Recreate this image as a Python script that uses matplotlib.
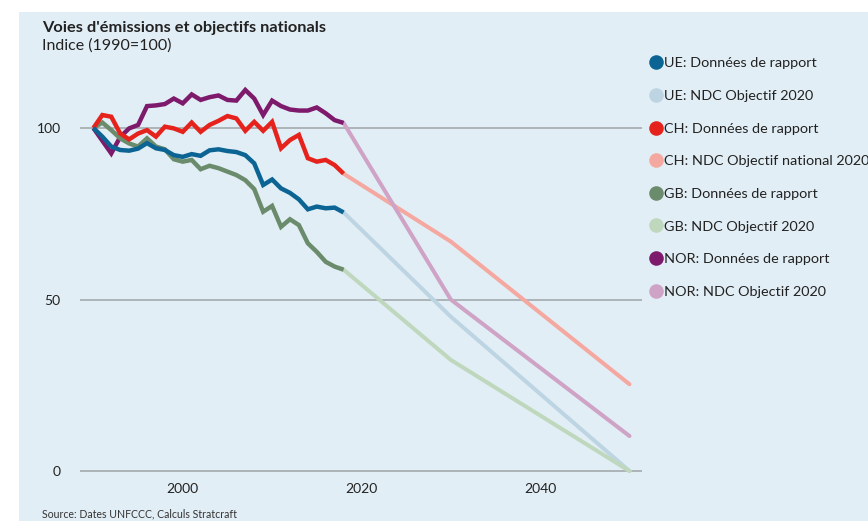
import matplotlib.pyplot as plt
from matplotlib.lines import Line2D

# ---- data (index, 1990 = 100) ----
years = list(range(1990, 2019))

ue_reported = [100, 97.5, 94.6, 93.6, 93.4, 94.0, 95.6, 94.1, 93.6, 92.1,
               91.6, 92.4, 91.9, 93.5, 93.8, 93.3, 93.0, 92.1, 89.7, 83.4,
               85.0, 82.4, 81.1, 79.2, 76.3, 77.1, 76.6, 76.8, 75.4]
ch_reported = [100, 103.8, 103.3, 98.4, 96.7, 98.4, 99.4, 97.5, 100.4, 99.9,
               98.9, 101.6, 98.9, 100.9, 102.1, 103.5, 102.8, 99.2, 101.8, 99.2,
               101.8, 94.1, 96.5, 98.0, 91.2, 90.2, 90.7, 89.2, 86.7]
gb_reported = [100, 101.6, 99.4, 97.0, 95.5, 94.6, 97.0, 94.6, 93.8, 90.9,
               90.2, 90.7, 88.0, 89.0, 88.3, 87.3, 86.3, 84.8, 82.2, 75.6,
               77.3, 71.2, 73.4, 71.7, 66.4, 63.9, 61.0, 59.6, 58.7]
nor_reported = [100, 96.3, 92.6, 97.4, 99.9, 100.9, 106.4, 106.6, 107.0, 108.6,
                107.2, 109.8, 108.2, 109.0, 109.5, 108.2, 108.0, 111.1, 108.6, 103.8,
                108.0, 106.4, 105.4, 105.1, 105.1, 106.0, 104.3, 102.3, 101.5]

target_years = [2018, 2030, 2050]
ue_target = [75.4, 45.0, 0.0]
ch_target = [86.7, 66.9, 25.3]
gb_target = [58.7, 32.4, 0.0]
nor_target = [101.5, 50.0, 10.2]

labels = [
    "UE: Données de rapport", "UE: NDC Objectif 2020",
    "CH: Données de rapport", "CH: NDC Objectif national 2020",
    "GB: Données de rapport", "GB: NDC Objectif 2020",
    "NOR: Données de rapport", "NOR: NDC Objectif 2020",
]

# ---- style ----
BG = "#e2eef5"
GRID = "#a3aaae"
TEXT = "#222222"
colors = {
    "ue": ("#0b6494", "#bdd5e3"),
    "ch": ("#e5231c", "#f4a8a0"),
    "gb": ("#6b8b6d", "#bfd8bd"),
    "nor": ("#7e1a6c", "#cfa3c6"),
}
plt.rcParams["font.family"] = ["Lato", "DejaVu Sans"]

fig = plt.figure(figsize=(8.68, 5.21), dpi=100)
fig.patch.set_facecolor("white")
# light-blue panel (white strip at top / left as in the source)
fig.patches.append(plt.Rectangle((19 / 868, 0), 1, 1 - 12 / 521,
                                 transform=fig.transFigure, facecolor=BG,
                                 edgecolor="none", zorder=-10))

ax = fig.add_axes([80 / 868, 1 - 481.3 / 521, (642 - 80) / 868, (481.3 - 76.6) / 521])
ax.set_facecolor("none")
ax.set_xlim(1988.5, 2051.4)
ax.set_ylim(-3, 115)

for y in (0, 50, 100):
    ax.axhline(y, color=GRID, lw=1.2, zorder=1)

series = [
    ("ue", ue_reported, ue_target),
    ("ch", ch_reported, ch_target),
    ("gb", gb_reported, gb_target),
    ("nor", nor_reported, nor_target),
]
# target lines first, reported on top
for key, rep, tgt in series:
    ax.plot(target_years, tgt, color=colors[key][1], lw=2.9,
            solid_capstyle="round", solid_joinstyle="round", zorder=2)
for key, rep, tgt in reversed(series):
    ax.plot(years, rep, color=colors[key][0], lw=3.2,
            solid_capstyle="butt", solid_joinstyle="miter", zorder=3)

ax.set_xticks([2000, 2020, 2040])
ax.set_yticks([0, 50, 100])
ax.tick_params(length=0, labelsize=10, colors=TEXT)
ax.tick_params(axis="x", pad=1)
ax.tick_params(axis="y", pad=14)
for s in ax.spines.values():
    s.set_visible(False)

# ---- legend ----
handles = []
for key in ("ue", "ch", "gb", "nor"):
    for c in colors[key]:
        handles.append(Line2D([], [], ls="none", marker="o", markersize=10.5,
                              markerfacecolor=c, markeredgecolor="none"))
fig.legend(handles, labels, loc="upper left",
           bbox_to_anchor=(650 / 868, 1 - 57.3 / 521), frameon=False,
           fontsize=10.4, labelcolor=TEXT, handlelength=0.8, handletextpad=0.15,
           labelspacing=1.42, borderaxespad=0, borderpad=0)

# ---- titles ----
fig.text(42 / 868, 1 - 28 / 521, "Voies d'émissions et objectifs nationals",
         fontsize=11.8, fontweight="bold", color=TEXT, va="center", ha="left")
fig.text(42 / 868, 1 - 46 / 521, "Indice (1990=100)",
         fontsize=11.5, color=TEXT, va="center", ha="left")
fig.text(42 / 868, 1 - 514 / 521, "Source: Dates UNFCCC, Calculs Stratcraft",
         fontsize=7.6, color="#333333", va="center", ha="left")

fig.savefig("out.png", dpi=100, facecolor=fig.get_facecolor())
